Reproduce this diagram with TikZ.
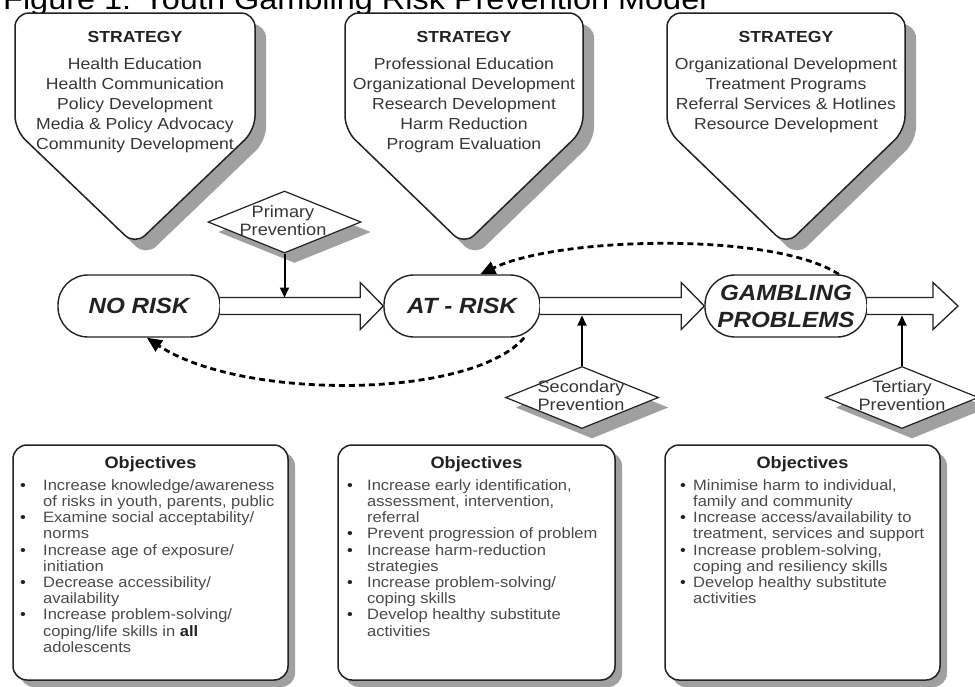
\documentclass[tikz,border=0pt]{standalone}
\usepackage{fontspec}
\setmainfont{Liberation Sans}[FakeStretch=1.1]
\usetikzlibrary{shapes.geometric,arrows.meta,calc,shadows}
\definecolor{ink}{HTML}{222222}
\definecolor{txt}{HTML}{363636}
\definecolor{otxt}{HTML}{4A4A4A}
\definecolor{shade}{HTML}{A0A0A0}
\newcommand{\bul}{\textcolor{ink}{\textbullet}}
\begin{document}
\begin{tikzpicture}[x=1pt,y=-1pt,
  shd/.style={drop shadow={shadow xshift=11pt, shadow yshift=-11pt, fill=shade, opacity=1}},
  oshd/.style={drop shadow={shadow xshift=7pt, shadow yshift=-7pt, fill=shade, opacity=1}},
  dshd/.style={drop shadow={shadow xshift=10pt, shadow yshift=-10pt, fill=shade, opacity=1}},
  pent/.style={draw=ink, line width=1.5pt, fill=white, rounded corners=14pt, shd},
  stad/.style={draw=ink, line width=1.4pt, fill=white, rounded corners=30pt, minimum height=62pt, inner sep=0pt, font=\fontsize{22}{27}\selectfont\bfseries\itshape, text=ink, align=center},
  hollow/.style={draw=ink, line width=1.3pt, fill=white, line join=miter},
  prev/.style={shape=diamond, draw=ink, line width=1.2pt, fill=white, minimum width=153pt, minimum height=62pt, inner sep=0pt, dshd},
  prevtxt/.style={font=\fontsize{16.5}{18}\selectfont, text=txt, align=center, inner sep=0pt},
  parr/.style={draw=black, line width=2pt, -{Triangle[length=10pt,width=9pt]}},
  dasharr/.style={draw=black, line width=2.8pt, dash pattern=on 6pt off 4pt, -{Triangle[length=15pt,width=13pt]}},
  objbox/.style={draw=ink, line width=1.5pt, fill=white, rounded corners=14pt, oshd},
  strathead/.style={font=\fontsize{16}{20}\selectfont\bfseries, text=ink, inner sep=0pt},
  stratbody/.style={font=\fontsize{16}{20}\selectfont, text=txt, align=center, inner sep=0pt, anchor=north},
  objhead/.style={font=\fontsize{16.5}{20}\selectfont\bfseries, text=ink, inner sep=0pt},
  objtxt/.style={font=\fontsize{15}{16.2}\selectfont, text=otxt, inner sep=0pt, anchor=north west},
]
\useasboundingbox (0,0) rectangle (975,686);
\clip (0,0) rectangle (975,686);

% title
\node[anchor=base west, inner sep=0pt, font=\fontsize{29.5}{30}\selectfont] (title) at (3,9.5) {Figure 1: Youth Gambling Risk Prevention Model};

% strategy pentagons
\path[pent] (15,13) -- (255,13) -- (255,130) -- (135,245) -- (15,130) -- cycle;
\path[pent] (345,13) -- (583,13) -- (583,130) -- (464,245) -- (345,130) -- cycle;
\path[pent] (667,13) -- (905,13) -- (905,130) -- (786,245) -- (667,130) -- cycle;

\node[strathead] (s1h) at (135,37) {STRATEGY};
\node[stratbody] (s1b) at (135,58) {Health Education\\Health Communication\\Policy Development\\Media \& Policy Advocacy\\Community Development};
\node[strathead] (s2h) at (464,37) {STRATEGY};
\node[stratbody] (s2b) at (464,58) {Professional Education\\Organizational Development\\Research Development\\Harm Reduction\\Program Evaluation};
\node[strathead] (s3h) at (786,37) {STRATEGY};
\node[stratbody] (s3b) at (786,58) {Organizational Development\\Treatment Programs\\Referral Services \& Hotlines\\Resource Development};

% prevention diamonds
\node[prev] (pp) at (284.5,222) {};
\node[prevtxt] (ppt) at (283,221) {Primary\\Prevention};
\node[prev] (sp) at (582,397.5) {};
\node[prevtxt] (spt) at (581,396) {Secondary\\Prevention};
\node[prev] (tp) at (902,397.5) {};
\node[prevtxt] (tpt) at (902,396) {Tertiary\\Prevention};

% stages
\node[stad, minimum width=162pt] (norisk) at (139,306) {NO RISK};
\node[stad, minimum width=156pt] (atrisk) at (462,306) {AT - RISK};
\node[stad, minimum width=162pt] (gp) at (786,306) {GAMBLING\\PROBLEMS};
\coordinate (end3) at (958,306);

% hollow arrows
\draw[hollow] let \p1=(norisk.east), \p2=(atrisk.west) in
  ({\x1-0.5pt},{\y1+8.5pt}) -- ({\x2-23pt},{\y1+8.5pt}) -- ({\x2-23pt},{\y1+23.5pt}) -- (\x2,\y1)
  -- ({\x2-23pt},{\y1-23.5pt}) -- ({\x2-23pt},{\y1-8.5pt}) -- ({\x1-0.5pt},{\y1-8.5pt});
\draw[hollow] let \p1=(atrisk.east), \p2=(gp.west) in
  ({\x1-0.5pt},{\y1+8.5pt}) -- ({\x2-23pt},{\y1+8.5pt}) -- ({\x2-23pt},{\y1+23.5pt}) -- (\x2,\y1)
  -- ({\x2-23pt},{\y1-23.5pt}) -- ({\x2-23pt},{\y1-8.5pt}) -- ({\x1-0.5pt},{\y1-8.5pt});
\draw[hollow] let \p1=(gp.east), \p2=(end3) in
  ({\x1-0.5pt},{\y1+8.5pt}) -- ({\x2-25pt},{\y1+8.5pt}) -- ({\x2-25pt},{\y1+23.5pt}) -- (\x2,\y1)
  -- ({\x2-25pt},{\y1-23.5pt}) -- ({\x2-25pt},{\y1-8.5pt}) -- ({\x1-0.5pt},{\y1-8.5pt});

% prevention arrows
\coordinate (s1) at (284.5,297.5);
\coordinate (s2) at (582,315.5);
\coordinate (s3) at (902,315.5);
\draw[parr] (pp.south) -- (s1);
\draw[parr] (sp.north) -- (s2);
\draw[parr] (tp.north) -- (s3);

% relapse / recovery arrows
\draw[dasharr] (gp.31) .. controls (775,232) and (560,236) .. (atrisk.60);
\draw[dasharr] (atrisk.-27) .. controls (470,400) and (240,400) .. (norisk.-76);

% objectives boxes
\path[objbox] (13,445) rectangle (288,680);
\path[objbox] (338,445) rectangle (615,680);
\path[objbox] (665,445) rectangle (940,680);

\node[objhead] (o1h) at (150.5,464) {Objectives};
\node[objhead] (o2h) at (476.5,464) {Objectives};
\node[objhead] (o3h) at (802.5,464) {Objectives};

\node[objtxt] (o1t) at (20,478.7) {\begin{tabular}{@{}p{23pt}@{}l@{}}
\bul & Increase knowledge/awareness\\
 & of risks in youth, parents, public\\
\bul & Examine social acceptability/\\
 & norms\\
\bul & Increase age of exposure/\\
 & initiation\\
\bul & Decrease accessibility/\\
 & availability\\
\bul & Increase problem-solving/\\
 & coping/life skills in \textbf{\textcolor{ink}{all}}\\
 & adolescents
\end{tabular}};
\node[objtxt] (o2t) at (347,478.7) {\begin{tabular}{@{}p{20pt}@{}l@{}}
\bul & Increase early identification,\\
 & assessment, intervention,\\
 & referral\\
\bul & Prevent progression of problem\\
\bul & Increase harm-reduction\\
 & strategies\\
\bul & Increase problem-solving/\\
 & coping skills\\
\bul & Develop healthy substitute\\
 & activities
\end{tabular}};
\node[objtxt] (o3t) at (680,478.7) {\begin{tabular}{@{}p{13pt}@{}l@{}}
\bul & Minimise harm to individual,\\
 & family and community\\
\bul & Increase access/availability to\\
 & treatment, services and support\\
\bul & Increase problem-solving,\\
 & coping and resiliency skills\\
\bul & Develop healthy substitute\\
 & activities
\end{tabular}};
\end{tikzpicture}
\end{document}
